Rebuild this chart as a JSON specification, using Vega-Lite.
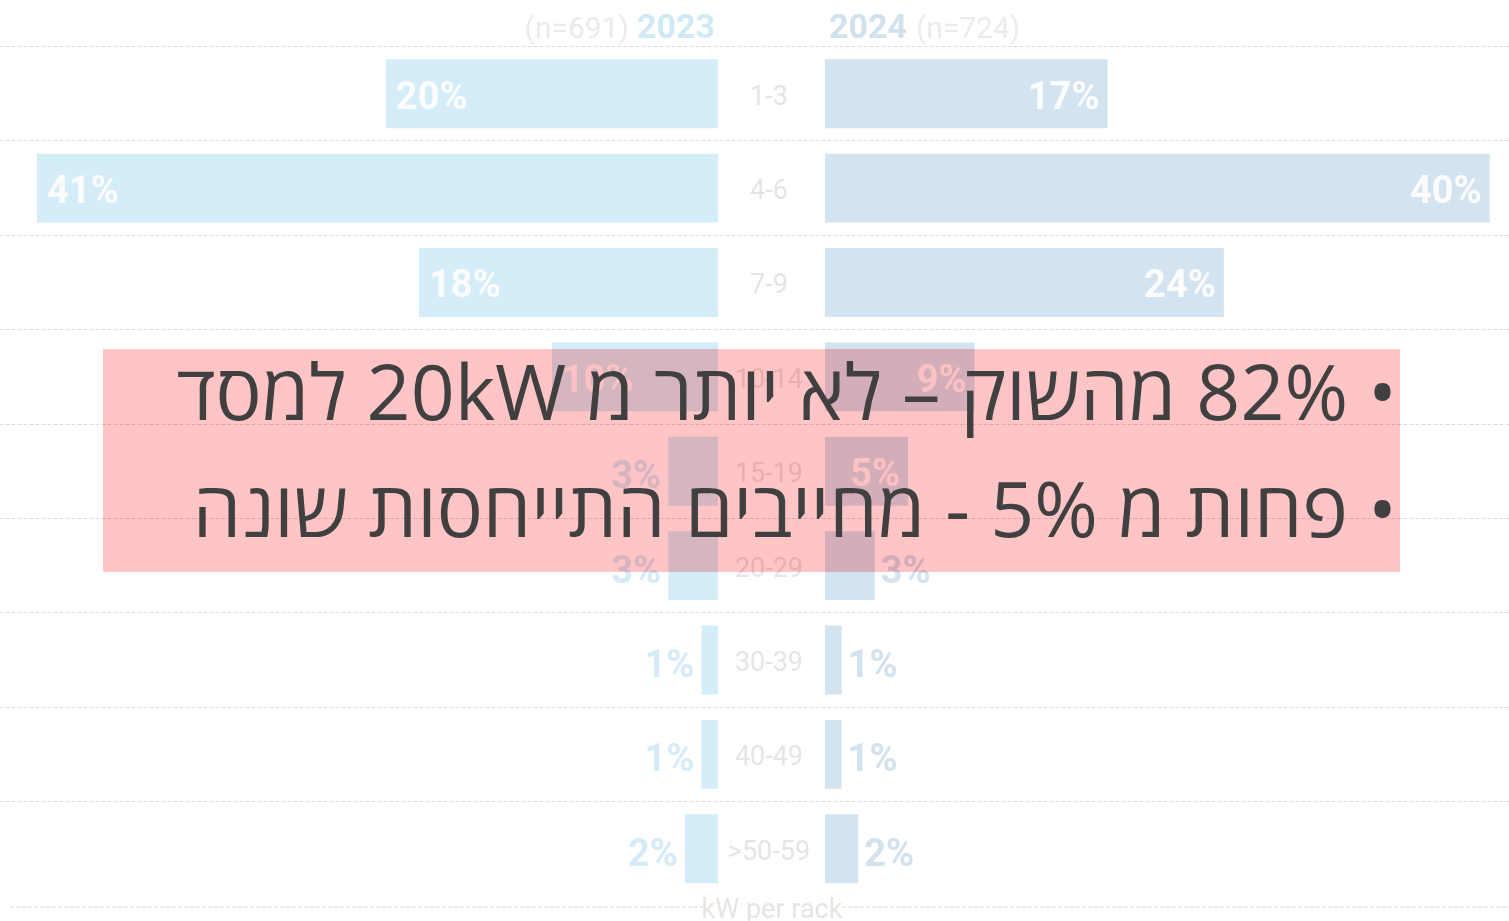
{
  "$schema": "https://vega.github.io/schema/vega-lite/v6.json",
  "width": 1509,
  "height": 921,
  "autosize": {"type": "none"},
  "padding": 0,
  "background": "white",
  "config": {"view": {"stroke": null}},
  "datasets": {
    "rack": [
      {"range": "1-3", "y2023": 0.20, "y2024": 0.17},
      {"range": "4-6", "y2023": 0.41, "y2024": 0.40},
      {"range": "7-9", "y2023": 0.18, "y2024": 0.24},
      {"range": "10-14", "y2023": 0.10, "y2024": 0.09},
      {"range": "15-19", "y2023": 0.03, "y2024": 0.05},
      {"range": "20-29", "y2023": 0.03, "y2024": 0.03},
      {"range": "30-39", "y2023": 0.01, "y2024": 0.01},
      {"range": "40-49", "y2023": 0.01, "y2024": 0.01},
      {"range": ">50-59", "y2023": 0.02, "y2024": 0.02}
    ]
  },
  "layer": [
    {
      "data": {"name": "rack"},
      "encoding": {
        "y": {
          "field": "range", "type": "nominal",
          "scale": {"domain": ["1-3","4-6","7-9","10-14","15-19","20-29","30-39","40-49",">50-59"], "range": [46.5, 896], "paddingInner": 0, "paddingOuter": 0},
          "axis": {"grid": true, "gridDash": [4, 2], "gridColor": "#dcdcdc", "gridWidth": 1, "bandPosition": 0, "domain": false, "ticks": false, "labels": false, "title": null}
        }
      },
      "layer": [
        {
          "mark": {"type": "bar", "height": {"band": 0.73}, "color": "#d5edf8"},
          "encoding": {
            "x": {"field": "y2023", "type": "quantitative", "scale": {"domain": [-0.4762, 0.4323], "reverse": true, "nice": false, "zero": false}, "axis": null},
            "x2": {"datum": 0}
          }
        },
        {
          "transform": [{"filter": "datum.y2023 >= 0.05"}],
          "mark": {"type": "text", "align": "left", "baseline": "middle", "dx": 10, "dy": 4, "font": "Roboto", "fontWeight": "bold", "fontSize": 38, "color": "#fcfcfc"},
          "encoding": {"x": {"field": "y2023", "type": "quantitative"}, "text": {"field": "y2023", "type": "quantitative", "format": ".0%"}}
        },
        {
          "transform": [{"filter": "datum.y2023 < 0.05"}],
          "mark": {"type": "text", "align": "right", "baseline": "middle", "dx": -7, "dy": 6, "font": "Roboto", "fontWeight": "bold", "fontSize": 38, "color": "#d5ecf8"},
          "encoding": {"x": {"field": "y2023", "type": "quantitative"}, "text": {"field": "y2023", "type": "quantitative", "format": ".0%"}}
        }
      ]
    },
    {
      "data": {"name": "rack"},
      "encoding": {
        "y": {
          "field": "range", "type": "nominal",
          "scale": {"domain": ["1-3","4-6","7-9","10-14","15-19","20-29","30-39","40-49",">50-59"], "range": [46.5, 896], "paddingInner": 0, "paddingOuter": 0},
          "axis": null
        }
      },
      "layer": [
        {
          "mark": {"type": "bar", "height": {"band": 0.73}, "color": "#d3e3f0"},
          "encoding": {
            "x": {"field": "y2024", "type": "quantitative", "scale": {"domain": [-0.4964, 0.4116], "nice": false, "zero": false}, "axis": null},
            "x2": {"datum": 0}
          }
        },
        {
          "transform": [{"filter": "datum.y2024 >= 0.05"}],
          "mark": {"type": "text", "align": "right", "baseline": "middle", "dx": -8, "dy": 4, "font": "Roboto", "fontWeight": "bold", "fontSize": 38, "color": "#fcfcfc"},
          "encoding": {"x": {"field": "y2024", "type": "quantitative"}, "text": {"field": "y2024", "type": "quantitative", "format": ".0%"}}
        },
        {
          "transform": [{"filter": "datum.y2024 < 0.05"}],
          "mark": {"type": "text", "align": "left", "baseline": "middle", "dx": 6, "dy": 6, "font": "Roboto", "fontWeight": "bold", "fontSize": 38, "color": "#d3e2ef"},
          "encoding": {"x": {"field": "y2024", "type": "quantitative"}, "text": {"field": "y2024", "type": "quantitative", "format": ".0%"}}
        },
        {
          "mark": {"type": "text", "align": "center", "baseline": "middle", "dy": 3, "font": "Roboto", "fontSize": 27, "color": "#e8e4e2"},
          "encoding": {"x": {"datum": -0.0337}, "text": {"field": "range", "type": "nominal"}}
        }
      ]
    },
    {
      "layer": [
        {
          "data": {"values": [{"part": "left"}]},
          "mark": {"type": "rule", "color": "#dcdcdc", "strokeDash": [4, 2], "strokeWidth": 1},
          "encoding": {
            "x": {"datum": 0.66, "type": "quantitative", "scale": {"domain": [0, 100], "nice": false, "zero": false}, "axis": null},
            "x2": {"datum": 46.6},
            "y": {"datum": 98.48, "type": "quantitative", "scale": {"domain": [0, 100], "reverse": true, "nice": false, "zero": false}, "axis": null}
          }
        },
        {
          "data": {"values": [{"part": "right"}]},
          "mark": {"type": "rule", "color": "#dcdcdc", "strokeDash": [4, 2], "strokeWidth": 1},
          "encoding": {"x": {"datum": 55.8}, "x2": {"datum": 100}, "y": {"datum": 98.48}}
        },
        {
          "data": {"values": [{"t": "kW per rack"}]},
          "mark": {"type": "text", "align": "center", "baseline": "alphabetic", "font": "Roboto", "fontSize": 27, "color": "#e8e4e2"},
          "encoding": {"x": {"datum": 51.16}, "y": {"datum": 99.7}, "text": {"field": "t"}}
        },
        {
          "data": {"values": [{"t": "(n=691)"}]},
          "mark": {"type": "text", "align": "right", "baseline": "alphabetic", "font": "Roboto", "fontSize": 30, "color": "#eeeae8"},
          "encoding": {"x": {"datum": 41.68}, "y": {"datum": 4.13}, "text": {"field": "t"}}
        },
        {
          "data": {"values": [{"t": "2023"}]},
          "mark": {"type": "text", "align": "right", "baseline": "alphabetic", "font": "Roboto", "fontWeight": "bold", "fontSize": 34, "color": "#d0e9f6"},
          "encoding": {"x": {"datum": 47.38}, "y": {"datum": 4.13}, "text": {"field": "t"}}
        },
        {
          "data": {"values": [{"t": "2024"}]},
          "mark": {"type": "text", "align": "left", "baseline": "alphabetic", "font": "Roboto", "fontWeight": "bold", "fontSize": 34, "color": "#d2e1ee"},
          "encoding": {"x": {"datum": 54.94}, "y": {"datum": 4.13}, "text": {"field": "t"}}
        },
        {
          "data": {"values": [{"t": "(n=724)"}]},
          "mark": {"type": "text", "align": "left", "baseline": "alphabetic", "font": "Roboto", "fontSize": 30, "color": "#eeeae8"},
          "encoding": {"x": {"datum": 60.7}, "y": {"datum": 4.13}, "text": {"field": "t"}}
        },
        {
          "data": {"values": [{"note": "highlight"}]},
          "mark": {"type": "rect", "color": "#ffc4c5", "blend": "multiply"},
          "encoding": {"x": {"datum": 6.83}, "x2": {"datum": 92.78}, "y": {"datum": 37.89}, "y2": {"datum": 62.11}}
        },
        {
          "data": {"values": [{"t": "\u202b• 82% מהשוק – לא יותר מ 20kW למסד\u202c"}]},
          "mark": {"type": "text", "align": "right", "baseline": "alphabetic", "font": "Open Sans", "fontSize": 77, "color": "#404040"},
          "encoding": {"x": {"datum": 92.58}, "y": {"datum": 45.6}, "text": {"field": "t"}}
        },
        {
          "data": {"values": [{"t": "\u202b• פחות מ 5% - מחייבים התייחסות שונה\u202c"}]},
          "mark": {"type": "text", "align": "right", "baseline": "alphabetic", "font": "Open Sans", "fontSize": 77, "color": "#404040"},
          "encoding": {"x": {"datum": 92.58}, "y": {"datum": 58.31}, "text": {"field": "t"}}
        }
      ]
    }
  ],
  "resolve": {"scale": {"x": "independent", "y": "independent"}, "axis": {"x": "independent", "y": "independent"}}
}
